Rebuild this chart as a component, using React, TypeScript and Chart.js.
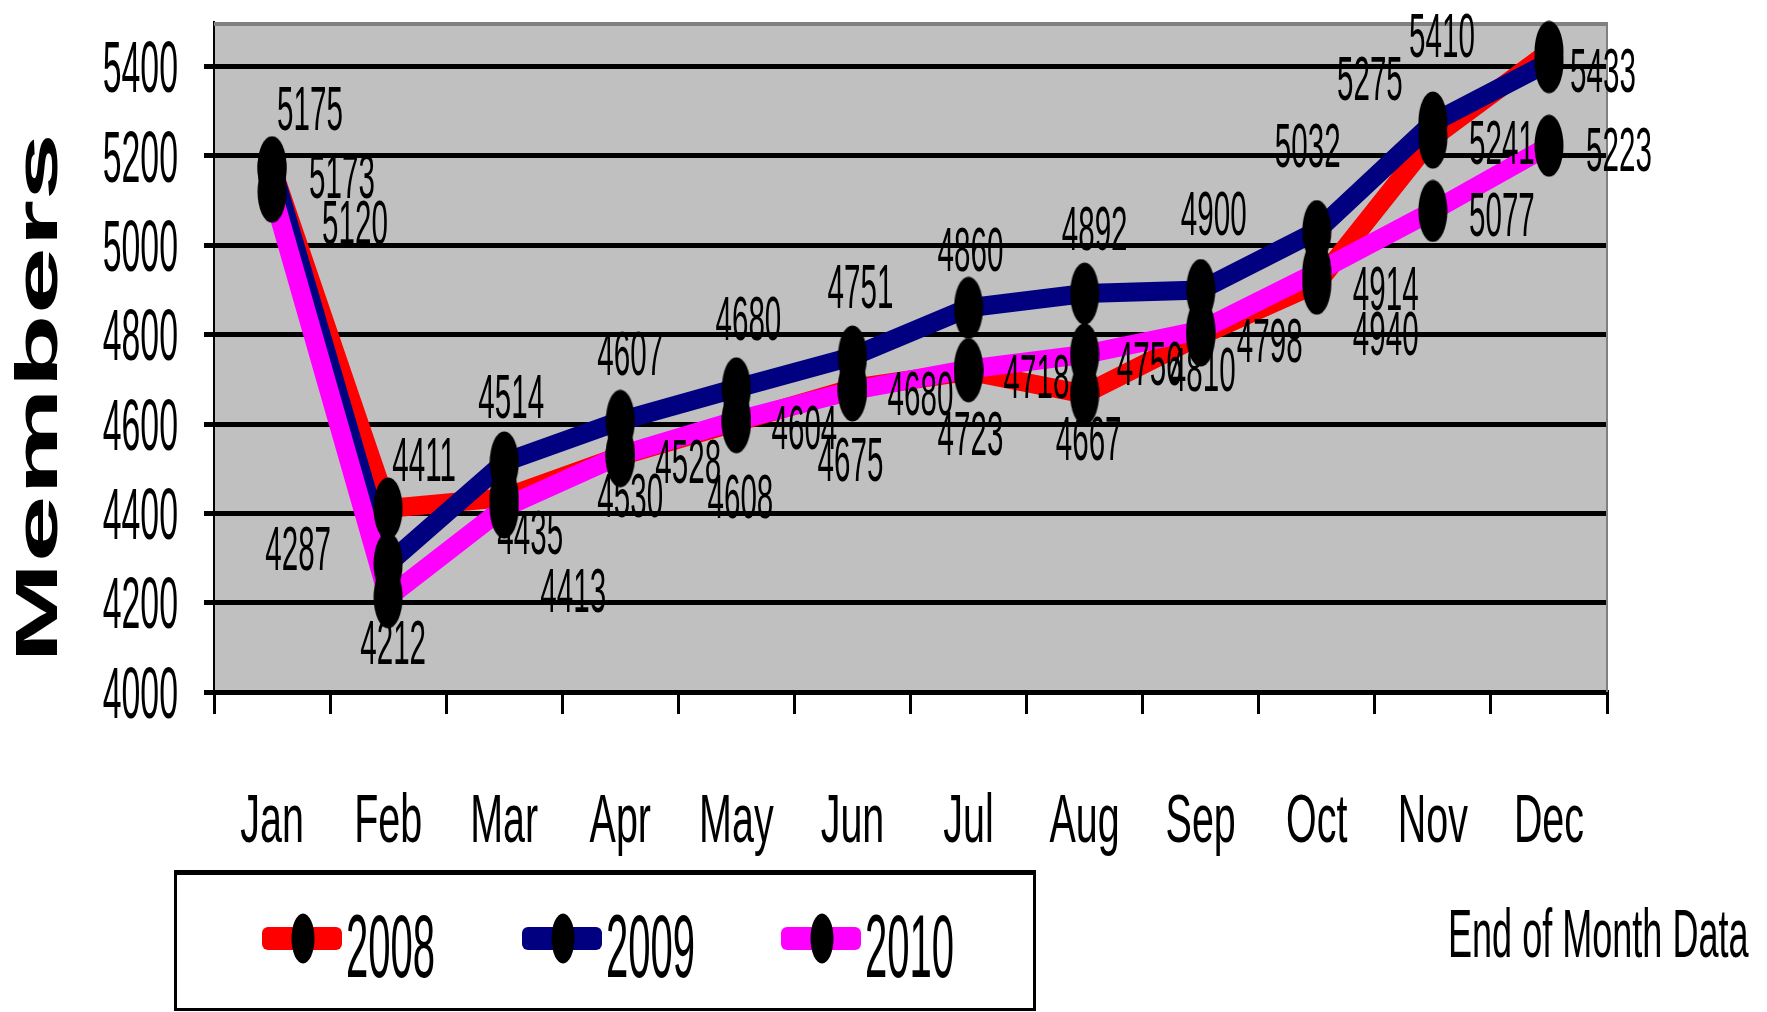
import React, { useEffect, useRef } from 'react';
import { Chart, registerables } from 'chart.js';

Chart.register(...registerables);

// ---- data ----
const months = ['Jan', 'Feb', 'Mar', 'Apr', 'May', 'Jun', 'Jul', 'Aug', 'Sep', 'Oct', 'Nov', 'Dec'];
const seriesNames = ['2008', '2009', '2010'];
const members2008 = [5173, 4411, 4435, 4528, 4604, 4680, 4718, 4667, 4798, 4914, 5241, 5433];
const members2009 = [5175, 4287, 4514, 4607, 4680, 4751, 4860, 4892, 4900, 5032, 5275, 5410];
const members2010 = [5120, 4212, 4413, 4530, 4608, 4675, 4723, 4756, 4810, 4940, 5077, 5223];
const yMin = 4000;
const yMax = 5500;
const yStep = 200;
const yTitle = 'Members';
const footnote = 'End of Month Data';

// ---- styles ----
const seriesColors = ['#FF0000', '#000080', '#FF00FF'];
// label offsets (dx, dy) from each point to its label centre
const labelOffsets2008 = [[70, 7], [36, -50], [26, 34], [68, 4], [68, 4], [68, 4], [68, 4], [4, 43], [69, 4], [69, 4], [69, 4], [54, 18]];
const labelOffsets2009 = [[38, -60], [-90, -16], [7, -67], [10, -68], [12, -71], [8, -71], [2, -59], [10, -66], [13, -78], [-9, -87], [-63, -45], [-107, -28]];
const labelOffsets2010 = [[83, 30], [5, 44], [69, 82], [10, 39], [4, 75], [-2, 68], [2, 63], [65, 8], [2, 38], [69, 60], [69, 3], [70, 3]];
const labelOffsets = [labelOffsets2008, labelOffsets2009, labelOffsets2010];

const FONT = '"Liberation Sans", Arial, Helvetica, sans-serif';

function makeEllipse(w: number, h: number): HTMLCanvasElement {
  const c = document.createElement('canvas');
  c.width = w;
  c.height = h;
  const g = c.getContext('2d')!;
  g.fillStyle = '#000';
  g.beginPath();
  g.ellipse(w / 2, h / 2, w / 2 - 0.5, h / 2 - 0.5, 0, 0, Math.PI * 2);
  g.fill();
  return c;
}

function drawText(
  ctx: CanvasRenderingContext2D,
  text: string,
  x: number,
  y: number,
  size: number,
  sx: number,
  align: CanvasTextAlign,
  bold = false
) {
  ctx.save();
  ctx.font = `${bold ? 'bold ' : ''}${size}px ${FONT}`;
  ctx.textAlign = align;
  ctx.textBaseline = 'alphabetic';
  ctx.fillStyle = '#000';
  ctx.translate(x, y);
  ctx.scale(sx, 1);
  ctx.fillText(text, 0, 0);
  ctx.restore();
}

const decorPlugin = {
  id: 'decor',
  beforeDraw(chart: any) {
    const { ctx, chartArea: a } = chart;
    ctx.save();
    ctx.fillStyle = '#FFFFFF';
    ctx.fillRect(0, 0, chart.width, chart.height);
    ctx.fillStyle = '#C0C0C0';
    ctx.fillRect(a.left, a.top, a.right - a.left, a.bottom - a.top);
    ctx.restore();
  },
  beforeDatasetsDraw(chart: any) {
    const { ctx, chartArea: a } = chart;
    ctx.save();
    ctx.strokeStyle = '#808080';
    ctx.lineWidth = 4;
    ctx.beginPath();
    ctx.moveTo(a.left, a.top + 2);
    ctx.lineTo(a.right + 1, a.top + 2);
    ctx.stroke();
    ctx.lineWidth = 2;
    ctx.beginPath();
    ctx.moveTo(a.right, a.top);
    ctx.lineTo(a.right, a.bottom);
    ctx.stroke();
    ctx.restore();
  },
  afterDatasetsDraw(chart: any) {
    const { ctx } = chart;
    const size = 63;
    for (let d = 0; d < 3; d++) {
      const meta = chart.getDatasetMeta(d);
      const values = chart.data.datasets[d].data;
      meta.data.forEach((pt: any, i: number) => {
        const [dx, dy] = labelOffsets[d][i];
        drawText(ctx, String(values[i]), pt.x + dx, pt.y + dy + size * 0.358, size, 0.47, 'center');
      });
    }
  },
  afterDraw(chart: any) {
    const { ctx, chartArea: a } = chart;
    const yScale = chart.scales.y;
    const xScale = chart.scales.x;
    // y tick labels
    const ts = 72;
    yScale.ticks.forEach((t: any) => {
      const y = yScale.getPixelForValue(t.value);
      drawText(ctx, String(t.value), a.left - 36, y + ts * 0.358, ts, 0.47, 'right');
    });
    // x labels
    const xs = 68;
    chart.data.labels.forEach((lab: string, i: number) => {
      const x = xScale.getPixelForTick(i);
      drawText(ctx, lab, x, 842, xs, 0.58, 'center');
    });
    // y title
    ctx.save();
    ctx.font = `bold 59px ${FONT}`;
    const w = ctx.measureText(yTitle).width;
    const sx = 530 / w;
    ctx.translate(57, 398);
    ctx.rotate(-Math.PI / 2);
    ctx.scale(sx, 1);
    ctx.textAlign = 'center';
    ctx.textBaseline = 'alphabetic';
    ctx.fillStyle = '#000';
    ctx.fillText(yTitle, 0, 0);
    ctx.restore();
    // footnote
    drawText(ctx, footnote, 1448, 957, 68, 0.53, 'left');
    // legend box
    ctx.save();
    ctx.strokeStyle = '#000';
    ctx.lineWidth = 3;
    ctx.strokeRect(175.5, 872.5, 859, 137);
    ctx.lineWidth = 5;
    ctx.beginPath();
    ctx.moveTo(174, 872.5);
    ctx.lineTo(1036, 872.5);
    ctx.stroke();
    ctx.restore();
    const legendX = [262, 522, 781];
    const ly = 938;
    const marker = makeEllipse(24, 51);
    for (let d = 0; d < 3; d++) {
      const x0 = legendX[d];
      ctx.save();
      ctx.fillStyle = chart.data.datasets[d].borderColor;
      ctx.beginPath();
      (ctx as any).roundRect(x0, ly - 11, 80, 23, 6);
      ctx.fill();
      ctx.drawImage(marker, x0 + 41 - 12, ly - 25);
      ctx.restore();
      drawText(ctx, chart.data.datasets[d].label, x0 + 84, 977, 89, 0.45, 'left');
    }
  },
};

export default function App() {
  const canvasRef = useRef<HTMLCanvasElement | null>(null);

  useEffect(() => {
    const canvas = canvasRef.current;
    if (!canvas) return;
    const ellipse = makeEllipse(30, 63);
    const seriesData = [members2008, members2009, members2010];
    const lineSets = seriesData.map((data, d) => ({
      label: seriesNames[d],
      data,
      borderColor: seriesColors[d],
      backgroundColor: seriesColors[d],
      borderWidth: 19,
      pointRadius: 0,
      pointHoverRadius: 0,
      tension: 0,
      fill: false,
      clip: false as any,
      order: 3 - d + 3,
    }));
    const markerSets = seriesData.map((data, d) => ({
      label: seriesNames[d] + ' markers',
      data,
      showLine: false,
      borderColor: '#000',
      backgroundColor: '#000',
      pointStyle: ellipse as any,
      pointRadius: 15,
      pointHoverRadius: 15,
      pointBorderWidth: 0,
      clip: false as any,
      order: 1,
    }));

    const chart = new Chart(canvas, {
      type: 'line',
      data: {
        labels: months,
        datasets: [...lineSets, ...markerSets] as any,
      },
      options: {
        responsive: false,
        animation: false,
        devicePixelRatio: 1,
        layout: { padding: { top: 22, right: 160, left: 0, bottom: 0 } },
        plugins: {
          legend: { display: false },
          tooltip: { enabled: false },
        },
        events: [],
        scales: {
          x: {
            type: 'category',
            offset: true,
            grid: {
              offset: true,
              drawOnChartArea: false,
              color: '#000',
              lineWidth: 3,
              tickLength: 22,
            },
            border: { color: '#000', width: 5 },
            ticks: { display: false },
            afterFit: (s: any) => {
              s.height = 320;
            },
          },
          y: {
            type: 'linear',
            min: yMin,
            max: yMax,
            ticks: { stepSize: yStep, includeBounds: false, display: false },
            grid: { color: '#000', lineWidth: 5, tickLength: 10 },
            border: { color: '#000', width: 2 },
            afterFit: (s: any) => {
              s.width = 214;
            },
          },
        },
      } as any,
      plugins: [decorPlugin],
    });
    return () => chart.destroy();
  }, []);

  return (
    <div style={{ position: 'absolute', left: 0, top: 0, width: 1767, height: 1012 }}>
      <canvas ref={canvasRef} width={1767} height={1012} style={{ display: 'block' }} />
    </div>
  );
}
